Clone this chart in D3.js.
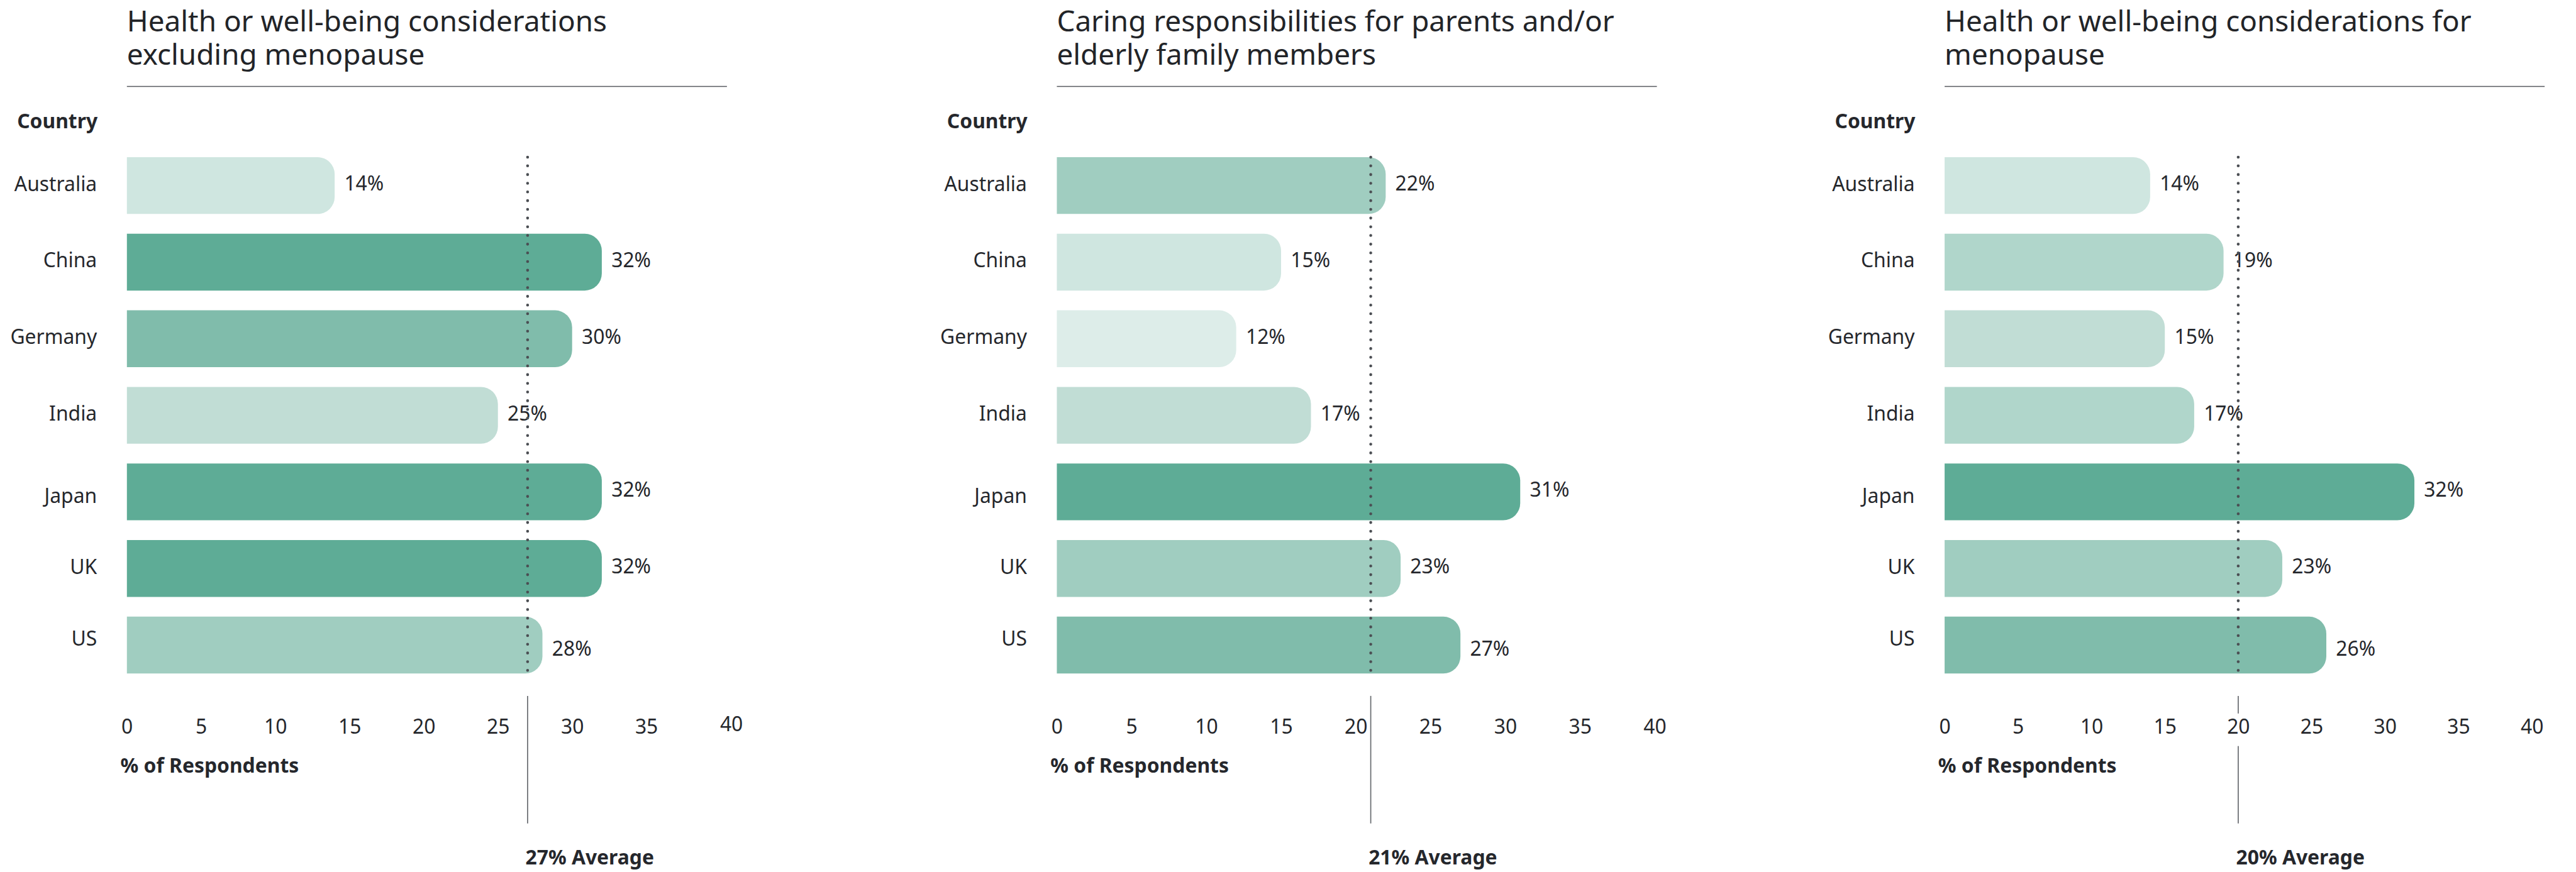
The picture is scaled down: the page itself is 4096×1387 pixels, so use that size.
<!DOCTYPE html>
<html>
<head>
<meta charset="utf-8">
<script src="https://cdn.jsdelivr.net/npm/d3@7"></script>
<style>
  html, body { margin: 0; padding: 0; background: #ffffff; }
  svg { display: block; }
  text { font-family: "Noto Sans", "Open Sans", sans-serif; fill: #25272c; }
</style>
</head>
<body>
<svg id="chart"></svg>
<script>
// ---- data -------------------------------------------------------------
const countries = ["Australia", "China", "Germany", "India", "Japan", "UK", "US"];

const healthExclMenopause = [14, 32, 30, 25, 32, 32, 28];
const caringForElders     = [22, 15, 12, 17, 31, 23, 27];
const healthMenopause     = [14, 19, 15, 17, 32, 23, 26];

const averages = [27, 21, 20];

const panelTitles = [
  ["Health or well-being considerations", "excluding menopause"],
  ["Caring responsibilities for parents and/or", "elderly family members"],
  ["Health or well-being considerations for", "menopause"]
];

const xTicks = [0, 5, 10, 15, 20, 25, 30, 35, 40];

// ---- styling ----------------------------------------------------------
// green ramp, lightest to darkest
const palette = ["#ddede9", "#cfe6e0", "#c1ddd5", "#b0d6cb", "#a0cdc0", "#80bcab", "#5eac96"];
// shade step used for each country's bar, per panel
const shadeSteps = [
  [1, 6, 5, 2, 6, 6, 4],
  [4, 1, 0, 2, 6, 4, 5],
  [1, 3, 2, 3, 6, 4, 5]
];

// drawing is laid out on a 4824 x 1634 canvas and scaled to the window
const W = 4824, H = 1634;
const panels = [
  { values: healthExclMenopause, avg: averages[0], title: panelTitles[0], shades: shadeSteps[0], x0: 237,  unit: 27.8, lastTickNudge: [20, -5] },
  { values: caringForElders,     avg: averages[1], title: panelTitles[1], shades: shadeSteps[1], x0: 1979, unit: 28.0, lastTickNudge: [0, 0] },
  { values: healthMenopause,     avg: averages[2], title: panelTitles[2], shades: shadeSteps[2], x0: 3642, unit: 27.5, lastTickNudge: [0, 0] }
];

const fs = 37.5;          // label font size
const titleFs = 54;       // title font size
const ruleWidth = 1124;   // width of the title underline
const rowTop = 294.5, rowBottom = 1262;
const cornerR = 32;

// small per-row baseline tweaks for the row labels
const countryNudge = { Japan: 11, US: -9 };
const valueNudge = { US: 11 };

const svg = d3.select("#chart")
  .attr("width", 4096)
  .attr("height", 1387)
  .attr("viewBox", `0 0 ${W} ${H}`);

const y = d3.scaleBand()
  .domain(countries)
  .range([rowTop, rowBottom])
  .paddingInner(0.258)
  .paddingOuter(0);

// bar with square left end and rounded right end
function barPath(xa, xb, top, h) {
  const r = Math.min(cornerR, (xb - xa) / 2, h / 2);
  return `M${xa},${top}H${xb - r}A${r},${r} 0 0 1 ${xb},${top + r}` +
         `V${top + h - r}A${r},${r} 0 0 1 ${xb - r},${top + h}H${xa}Z`;
}

panels.forEach(p => {
  const x = d3.scaleLinear().domain([0, 40]).range([p.x0, p.x0 + 40 * p.unit]);
  const g = svg.append("g");

  // title, two lines
  const t = g.append("text")
    .attr("x", p.x0)
    .attr("y", 59)
    .style("font-size", titleFs + "px")
    .style("fill", "#222428");
  p.title.forEach((line, i) => {
    t.append("tspan").attr("x", p.x0).attr("y", 59 + i * 62).text(line);
  });

  // title rule
  g.append("line")
    .attr("x1", p.x0).attr("x2", p.x0 + ruleWidth)
    .attr("y1", 162).attr("y2", 162)
    .attr("stroke", "#55585d")
    .attr("stroke-width", 2);

  // column header
  g.append("text")
    .attr("x", p.x0 - 55)
    .attr("y", 240)
    .attr("text-anchor", "end")
    .style("font-size", fs + "px")
    .style("font-weight", 700)
    .text("Country");

  // bars
  g.selectAll("path.bar")
    .data(p.values)
    .join("path")
    .attr("class", "bar")
    .attr("d", (v, i) => barPath(x(0), x(v), y(countries[i]), y.bandwidth()))
    .attr("fill", (v, i) => palette[p.shades[i]]);

  // country labels
  g.selectAll("text.country")
    .data(countries)
    .join("text")
    .attr("class", "country")
    .attr("x", p.x0 - 56)
    .attr("y", c => y(c) + y.bandwidth() / 2 + 10 + (countryNudge[c] || 0))
    .attr("text-anchor", "end")
    .style("font-size", fs + "px")
    .text(c => c);

  // value labels
  g.selectAll("text.value")
    .data(p.values)
    .join("text")
    .attr("class", "value")
    .attr("x", v => x(v) + 18)
    .attr("y", (v, i) => y(countries[i]) + y.bandwidth() / 2 + 9.5 + (valueNudge[countries[i]] || 0))
    .style("font-size", fs + "px")
    .text(v => v + "%");

  // average: dotted guide through the bars
  g.append("line")
    .attr("x1", x(p.avg)).attr("x2", x(p.avg))
    .attr("y1", rowTop).attr("y2", rowBottom)
    .attr("stroke", "#4b4e53")
    .attr("stroke-width", 5.4)
    .attr("stroke-linecap", "round")
    .attr("stroke-dasharray", "0 16.3");

  // average: solid marker below the bars
  g.append("line")
    .attr("x1", x(p.avg)).attr("x2", x(p.avg))
    .attr("y1", 1304).attr("y2", 1543)
    .attr("stroke", "#66696e")
    .attr("stroke-width", 2);

  // x axis (labels only, knocked out of the average marker)
  const axisBase = 1375;
  const ax = g.append("g")
    .attr("transform", `translate(0,${axisBase})`)
    .call(d3.axisBottom(x).tickValues(xTicks).tickSize(0).tickPadding(0));
  ax.select(".domain").remove();
  ax.selectAll("text")
    .attr("y", 0)
    .attr("dy", null)
    .attr("fill", "#25272c")
    .style("font-size", fs + "px")
    .style("font-family", '"Noto Sans", "Open Sans", sans-serif');
  ax.selectAll(".tick").each(function () {
    const tick = d3.select(this);
    const bb = tick.select("text").node().getBBox();
    tick.insert("rect", "text")
      .attr("x", bb.x - 3)
      .attr("y", -38)
      .attr("width", bb.width + 6)
      .attr("height", 61)
      .attr("fill", "#ffffff");
  });
  ax.selectAll(".tick").filter(d => d === xTicks[xTicks.length - 1])
    .select("text")
    .attr("dx", p.lastTickNudge[0])
    .attr("dy", p.lastTickNudge[1]);

  // axis title
  g.append("text")
    .attr("x", p.x0 - 12)
    .attr("y", 1448)
    .style("font-size", fs + "px")
    .style("font-weight", 700)
    .text("% of Respondents");

  // average caption
  g.append("text")
    .attr("x", x(p.avg) - 4)
    .attr("y", 1620)
    .style("font-size", fs + "px")
    .style("font-weight", 700)
    .text(`${p.avg}% Average`);
});
</script>
</body>
</html>
